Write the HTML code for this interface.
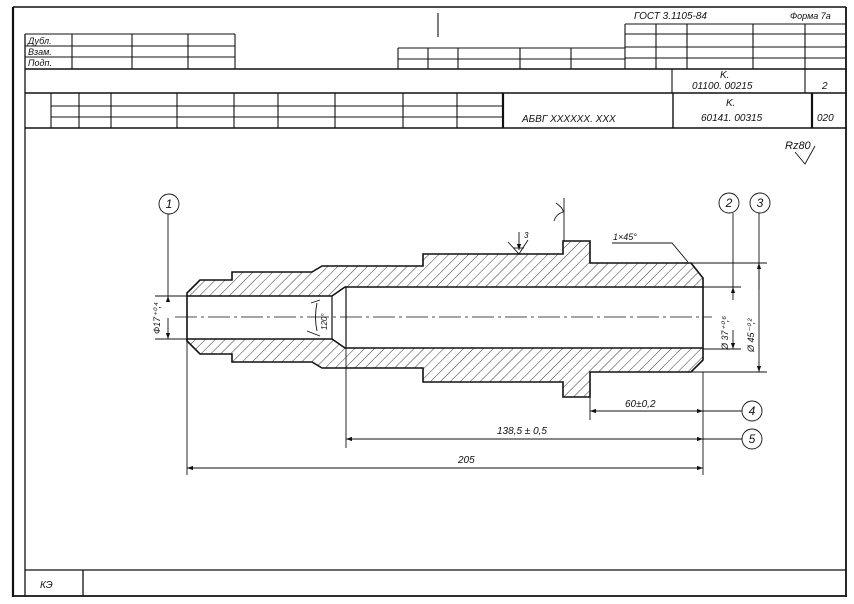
<!DOCTYPE html>
<html><head><meta charset="utf-8"><style>
html,body{margin:0;padding:0;background:#fff}
svg{display:block}
text{font-family:"Liberation Sans",sans-serif;font-style:italic;fill:#111}
</style></head><body>
<svg width="854" height="604" viewBox="0 0 854 604" xmlns="http://www.w3.org/2000/svg">
<defs>
<pattern id="h" patternUnits="userSpaceOnUse" width="7" height="7" patternTransform="rotate(45)">
<line x1="0" y1="0" x2="0" y2="7" stroke="#222" stroke-width="0.9"/>
</pattern>
<marker id="a" viewBox="0 0 10 10" refX="10" refY="5" markerWidth="9" markerHeight="6" orient="auto-start-reverse" markerUnits="userSpaceOnUse">
<path d="M0,1.5 L10,5 L0,8.5 Z" fill="#111"/>
</marker>
</defs>
<g stroke="#111" fill="none">
<!-- frame -->
<line x1="13" y1="7" x2="846" y2="7" stroke-width="1.5"/>
<line x1="13" y1="7" x2="13" y2="597" stroke-width="2.2"/>
<line x1="846" y1="7" x2="846" y2="597" stroke-width="1.8"/>
<line x1="13" y1="596" x2="846" y2="596" stroke-width="1.8"/>
<line x1="25" y1="34" x2="25" y2="596" stroke-width="1.3"/>
<line x1="25" y1="69" x2="846" y2="69" stroke-width="1.4"/>
<line x1="25" y1="93" x2="846" y2="93" stroke-width="1.6"/>
<line x1="25" y1="128" x2="846" y2="128" stroke-width="1.6"/>
<line x1="25" y1="570" x2="846" y2="570" stroke-width="1.3"/>
<line x1="83" y1="570" x2="83" y2="596" stroke-width="1.3"/>
<!-- dubl table -->
<g stroke-width="1.1">
<line x1="25" y1="34" x2="235" y2="34"/><line x1="25" y1="46" x2="235" y2="46"/><line x1="25" y1="57" x2="235" y2="57"/>
<line x1="72" y1="34" x2="72" y2="69"/><line x1="132" y1="34" x2="132" y2="69"/><line x1="188" y1="34" x2="188" y2="69"/><line x1="235" y1="34" x2="235" y2="69"/>
<!-- middle table -->
<line x1="398" y1="48" x2="625" y2="48"/><line x1="398" y1="59" x2="625" y2="59"/>
<line x1="398" y1="48" x2="398" y2="69"/><line x1="428" y1="48" x2="428" y2="69"/><line x1="458" y1="48" x2="458" y2="69"/><line x1="520" y1="48" x2="520" y2="69"/><line x1="571" y1="48" x2="571" y2="69"/>
<line x1="438" y1="13" x2="438" y2="37"/>
<!-- right table -->
<line x1="625" y1="24" x2="846" y2="24"/><line x1="625" y1="34" x2="846" y2="34"/><line x1="625" y1="47" x2="846" y2="47"/><line x1="625" y1="58" x2="846" y2="58"/>
<line x1="625" y1="24" x2="625" y2="69"/><line x1="656" y1="24" x2="656" y2="69"/><line x1="687" y1="24" x2="687" y2="69"/><line x1="753" y1="24" x2="753" y2="69"/><line x1="805" y1="24" x2="805" y2="69"/>
<line x1="672" y1="69" x2="672" y2="93"/><line x1="805" y1="69" x2="805" y2="93"/>
<!-- row 93-128 -->
<line x1="51" y1="106" x2="503" y2="106"/><line x1="51" y1="117" x2="503" y2="117"/>
<line x1="51" y1="93" x2="51" y2="128"/><line x1="79" y1="93" x2="79" y2="128"/><line x1="111" y1="93" x2="111" y2="128"/><line x1="177" y1="93" x2="177" y2="128"/><line x1="234" y1="93" x2="234" y2="128"/><line x1="278" y1="93" x2="278" y2="128"/><line x1="335" y1="93" x2="335" y2="128"/><line x1="403" y1="93" x2="403" y2="128"/><line x1="457" y1="93" x2="457" y2="128"/>
</g>
<line x1="503" y1="93" x2="503" y2="128" stroke-width="2.2"/>
<line x1="673" y1="93" x2="673" y2="128" stroke-width="1.4"/>
<line x1="812" y1="93" x2="812" y2="128" stroke-width="2.2"/>
</g>
<!-- header text -->
<g font-size="9">
<text x="28" y="44">Дубл.</text><text x="28" y="55">Взам.</text><text x="28" y="66">Подп.</text>
<text x="634" y="19" font-size="10">ГОСТ  3.1105-84</text>
<text x="790" y="19" font-size="9">Форма 7а</text>
<text x="720" y="78" font-size="10">K.</text>
<text x="692" y="89" font-size="10">01100. 00215</text>
<text x="822" y="89" font-size="10">2</text>
<text x="522" y="122" font-size="10">АБВГ XXXXXX. XXX</text>
<text x="726" y="106" font-size="10">K.</text>
<text x="701" y="121" font-size="10">60141. 00315</text>
<text x="817" y="121" font-size="10">020</text>
<text x="40" y="588" font-size="10">КЭ</text>
</g>
<!-- part section -->
<path fill="url(#h)" fill-rule="evenodd" stroke="#111" stroke-width="1.6" d="
M187,293 L200,280 L232,280 L232,272 L312,272 L322,266 L423,266 L423,254 L563,254 L563,241 L590,241 L590,263 L691,263 L703,278 L703,360 L691,372 L590,372 L590,397 L563,397 L563,382 L423,382 L423,368 L322,368 L312,362 L232,362 L232,354 L200,354 L187,341 Z
M187,296 L332,296 L345,287 L703,287 L703,348 L345,348 L332,339 L187,339 Z"/>
<g stroke="#111" fill="none">
<line x1="332" y1="296" x2="332" y2="339" stroke-width="1.2"/>
<line x1="346" y1="287" x2="346" y2="348" stroke-width="1.2"/>
<line x1="175" y1="317" x2="712" y2="317" stroke-width="0.8" stroke-dasharray="22,4,3,4"/>
<!-- dims -->
<g stroke-width="0.9">
<line x1="155" y1="296" x2="187" y2="296"/><line x1="155" y1="339" x2="187" y2="339"/>
<line x1="168" y1="214" x2="168" y2="296"/>
<line x1="168" y1="300" x2="168" y2="296" marker-end="url(#a)"/>
<line x1="168" y1="318" x2="168" y2="339" marker-end="url(#a)"/>
<circle cx="169" cy="204" r="10"/>
<circle cx="729" cy="203" r="10"/>
<circle cx="760" cy="203" r="10"/>
<circle cx="752" cy="411" r="10"/>
<circle cx="752" cy="439" r="10"/>
<line x1="703" y1="287" x2="741" y2="287"/><line x1="703" y1="349" x2="741" y2="349"/>
<line x1="733" y1="213" x2="733" y2="287"/>
<line x1="733" y1="300" x2="733" y2="287" marker-end="url(#a)"/>
<line x1="733" y1="330" x2="733" y2="349" marker-end="url(#a)"/>
<line x1="691" y1="263" x2="767" y2="263"/><line x1="691" y1="372" x2="767" y2="372"/>
<line x1="759" y1="213" x2="759" y2="372" marker-end="url(#a)"/>
<line x1="759" y1="290" x2="759" y2="263" marker-end="url(#a)"/>
<polyline points="612,243 672,243 688,262"/>
<line x1="703" y1="372" x2="703" y2="475"/>
<line x1="590" y1="397" x2="590" y2="420"/>
<line x1="346" y1="348" x2="346" y2="448"/>
<line x1="187" y1="341" x2="187" y2="475"/>
<line x1="590" y1="411" x2="703" y2="411" marker-start="url(#a)" marker-end="url(#a)"/>
<line x1="703" y1="411" x2="742" y2="411"/>
<line x1="346" y1="439" x2="703" y2="439" marker-start="url(#a)" marker-end="url(#a)"/>
<line x1="703" y1="439" x2="742" y2="439"/>
<line x1="187" y1="468" x2="703" y2="468" marker-start="url(#a)" marker-end="url(#a)"/>
<line x1="564" y1="198" x2="564" y2="241"/>
<path d="M556,203 Q564,209 563,212 Q556,214 554,221"/>
<polyline points="508,242 519,254 528,240"/>
<line x1="519" y1="232" x2="519" y2="250" marker-end="url(#a)"/>
<line x1="514" y1="248" x2="524" y2="248"/>
<polyline points="795,152 805,164 815,146"/>
<path d="M317,303 Q314,317 317,331"/>
<line x1="311" y1="303" x2="320" y2="300"/>
<line x1="307" y1="331" x2="320" y2="336"/>
</g>
</g>
<g font-size="9">
<text x="169" y="208" text-anchor="middle" font-size="12">1</text>
<text x="729" y="207" text-anchor="middle" font-size="12">2</text>
<text x="760" y="207" text-anchor="middle" font-size="12">3</text>
<text x="752" y="415" text-anchor="middle" font-size="12">4</text>
<text x="752" y="443" text-anchor="middle" font-size="12">5</text>
<text transform="translate(160,334) rotate(-90)" font-size="9">Ф17⁺⁰,⁴</text>
<text transform="translate(728,350) rotate(-90)" font-size="9">Ø 37⁺⁰,⁶</text>
<text transform="translate(754,352) rotate(-90)" font-size="9">Ø 45⁻⁰,²</text>
<text transform="translate(327,330) rotate(-90)" font-size="8">120°</text>
<text x="613" y="240" font-size="9">1×45°</text>
<text x="625" y="407" font-size="10">60±0,2</text>
<text x="497" y="434" font-size="10">138,5 ± 0,5</text>
<text x="458" y="463" font-size="10">205</text>
<text x="524" y="238" font-size="8">3</text>
<text x="785" y="149" font-size="11">Rz80</text>
</g>
</svg>
</body></html>
